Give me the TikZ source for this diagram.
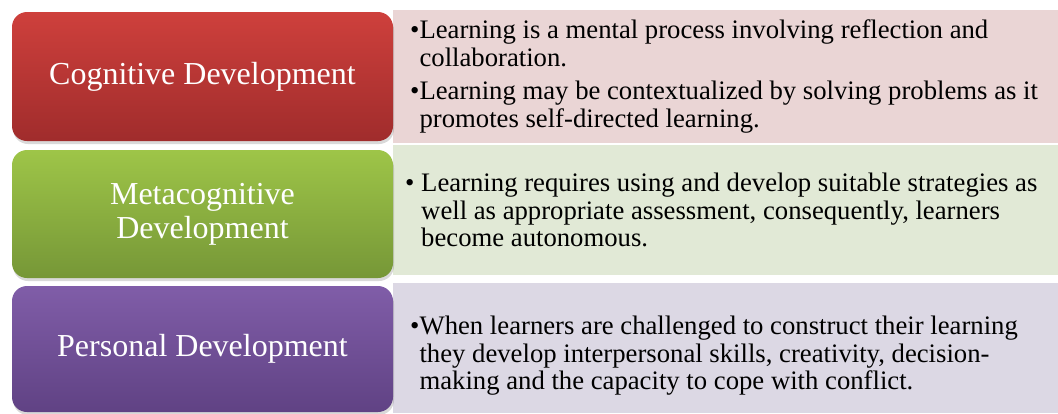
\documentclass[tikz,border=0pt]{standalone}
\usepackage{fontspec}
\setmainfont{Liberation Serif}
\usepackage{tikz}
\usetikzlibrary{positioning, shadows}
\definecolor{redtop}{RGB}{206, 64, 60}
\definecolor{redbot}{RGB}{160, 44, 44}
\definecolor{greentop}{RGB}{158, 197, 72}
\definecolor{greenbot}{RGB}{118, 151, 55}
\definecolor{purpletop}{RGB}{128, 93, 168}
\definecolor{purplebot}{RGB}{96, 66, 132}
\definecolor{redpale}{RGB}{234, 213, 213}
\definecolor{greenpale}{RGB}{225, 233, 214}
\definecolor{purplepale}{RGB}{220, 216, 228}
\tikzset{
  catbox/.style={rectangle, rounded corners=15pt, top color=#1top, bottom color=#1bot, draw=none,
    minimum width=381pt, minimum height=129pt, inner sep=0pt, align=center, text=white,
    font=\fontsize{32}{34}\selectfont,
    drop shadow={opacity=0.3, shadow xshift=1pt, shadow yshift=-3pt}},
  descbox/.style={rectangle, fill=#1pale, draw=none, minimum width=665pt, minimum height=133pt, inner sep=0pt},
  desctext/.style={align=left, inner sep=0pt, font=\fontsize{26.7}{27.5}\selectfont},
}
\newcommand{\bul}{\textbullet}
\begin{document}
\begin{tikzpicture}[x=1pt, y=-1pt]
\useasboundingbox (0,0) rectangle (1058,413);
% pale boxes on the right
\node[descbox=red, anchor=west] (cogdesc) at (393,76.5) {};
\node[descbox=green, anchor=west, minimum height=130pt] (metadesc) at (393,210) {};
\node[descbox=purple, anchor=west, minimum height=130pt] (persdesc) at (393,348) {};
% coloured category boxes
\node[catbox=red] (cog) at (202.5,76.5) {Cognitive Development};
\node[catbox=green, minimum height=128pt] (meta) at (202.5,214) {Metacognitive\\Development};
\node[catbox=purple, minimum height=126pt] (pers) at (202.5,349) {Personal Development};
% texts
\node[desctext, anchor=west] (cogtext) at ([xshift=17pt]cogdesc.west) {%
  \bul Learning is a mental process involving reflection and\\
  \hphantom{\bul}collaboration.\\[6pt]
  \bul Learning may be contextualized by solving problems as it\\
  \hphantom{\bul}promotes self-directed learning.};
\node[desctext, anchor=west] (metatext) at ([xshift=12pt]metadesc.west) {%
  \bul{} Learning requires using and develop suitable strategies as\\
  \hphantom{\bul{} }well as appropriate assessment, consequently, learners\\
  \hphantom{\bul{} }become autonomous.};
\node[desctext, anchor=west] (perstext) at ([xshift=17pt,yshift=-8pt]persdesc.west) {%
  \bul When learners are challenged to construct their learning\\
  \hphantom{\bul}they develop interpersonal skills, creativity, decision-\\
  \hphantom{\bul}making and the capacity to cope with conflict.};
\end{tikzpicture}
\end{document}
